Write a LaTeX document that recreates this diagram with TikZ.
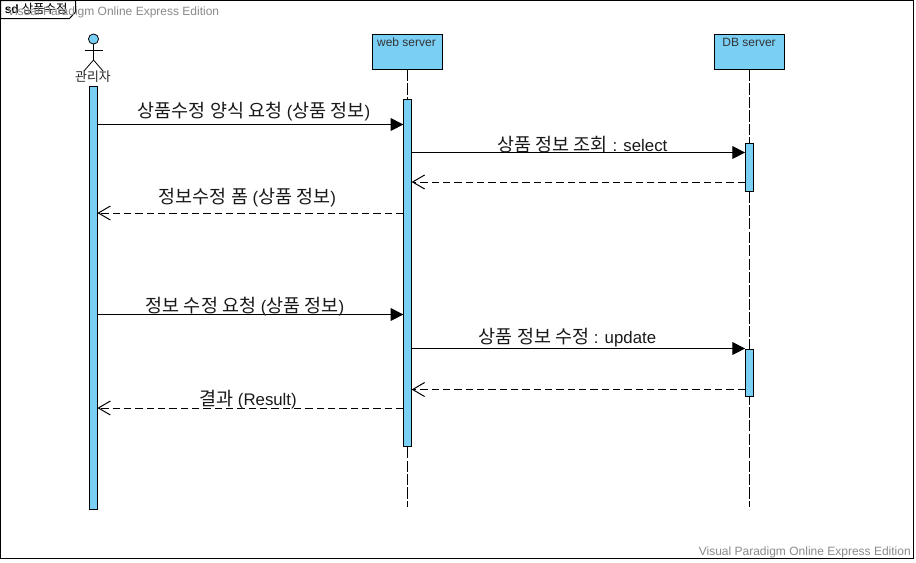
\documentclass[tikz,border=0pt]{standalone}
\usepackage{fontspec}
\setmainfont{Liberation Sans}
\newfontfamily\kr[Scale=1.1]{Noto Sans CJK KR}
\usetikzlibrary{arrows.meta,calc}
\definecolor{vpblue}{HTML}{7ACFF5}
\definecolor{vpgrey}{HTML}{8A8A8A}
\tikzset{
 bar/.style={draw=black,fill=vpblue,line width=0.75pt,minimum width=6.2pt,inner sep=0pt,outer sep=0pt,anchor=north},
 lifebox/.style={draw=black,fill=vpblue,line width=0.75pt,minimum width=52.5pt,minimum height=26.6pt,inner sep=0pt,outer sep=0pt,anchor=north west},
 boxtext/.style={font=\fontsize{9pt}{10pt}\selectfont,text=black!80,inner sep=0pt},
 lifeline/.style={line width=0.75pt,dash pattern=on 8.5pt off 1.6pt},
 call/.style={line width=0.75pt,-{Triangle[length=9.5pt,width=9.5pt]}},
 reply/.style={line width=0.75pt,dash pattern=on 5.5pt off 3pt,-{Straight Barb[length=9pt,width=10.5pt]}},
 msgtext/.style={font=\fontsize{12.6pt}{14pt}\selectfont,text=black!90,inner sep=0pt},
 wmark/.style={font=\fontsize{9pt}{11pt}\selectfont,text=vpgrey,inner sep=0pt},
 stick/.style={line width=0.6pt,draw=black}
}
\begin{document}
\begin{tikzpicture}[x=0.75pt,y=-0.75pt]
\useasboundingbox (0,0) rectangle (916,562);
\fill[white] (0,0) rectangle (916,562);
% frame
\node[draw=black,line width=0.75pt,minimum width=684.5pt,minimum height=418.6pt,inner sep=0pt,outer sep=0pt,anchor=north west] (frame) at (0.5,0.5) {};
\draw[line width=0.75pt,fill=white] (frame.north west) -- (75.5,0.5) -- (75.5,12) -- (69.5,18.5) -- (0.5,18.5) -- cycle;
\node[anchor=base west,inner sep=0pt,font=\fontsize{9pt}{10pt}\selectfont\bfseries] (sdtag) at (4.5,13) {sd};
\node[anchor=base west,inner sep=0pt,font=\fontsize{8.5pt}{10pt}\selectfont\kr] (sdname) at (21.5,13) {상품수정};
\node[wmark,anchor=base west] (wm1) at (7,15) {Visual Paradigm Online Express Edition};
\node[wmark,anchor=base east] (wm2) at (911,555) {Visual Paradigm Online Express Edition};
% lifelines heads
\node[lifebox] (web) at (372.5,34.5) {};
\node[boxtext] (webt) at (406.5,42) {web server};
\node[lifebox] (db) at (714.5,34.5) {};
\node[boxtext] (dbt) at (749,42) {DB server};
% lifeline ends
\coordinate (webend) at (407.5,507);
\coordinate (dbend) at (749.5,507);
\draw[lifeline] (web.south) -- (web.south |- webend);
\draw[lifeline] (db.south) -- (db.south |- dbend);
% actor
\node[draw=black,fill=vpblue,circle,line width=0.6pt,minimum size=7.6pt,inner sep=0pt,outer sep=0pt] (head) at (93.5,39) {};
\coordinate (hip) at (93.5,60);
\coordinate (shoulderL) at (84.5,50.5);
\coordinate (shoulderR) at (103,50.5);
\coordinate (footL) at (84,71);
\coordinate (footR) at (103,71);
\draw[stick] (head.south) -- (hip);
\draw[stick] (shoulderL) -- (shoulderR);
\draw[stick] (footL) -- (hip) -- (footR);
\node[font=\fontsize{8.8pt}{10pt}\selectfont\kr,text=black!85,inner sep=0pt] (actor) at (93,77) {관리자};
% activation bars
\node[bar,minimum height=317.2pt] (barA) at (93.25,86.5) {};
\node[bar,minimum height=260.2pt] (barW) at (407.5,99.5) {};
\node[bar,minimum height=36pt] (barD1) at (749.25,143.5) {};
\node[bar,minimum height=35.3pt] (barD2) at (749.25,349) {};
% message rows
\coordinate (m1) at (0,124.5);
\coordinate (m2) at (0,152.5);
\coordinate (m3) at (0,182);
\coordinate (m4) at (0,213);
\coordinate (m5) at (0,314.5);
\coordinate (m6) at (0,348.5);
\coordinate (m7) at (0,389.5);
\coordinate (m8) at (0,408);
\draw[call] (barA.east |- m1) -- (barW.west |- m1);
\draw[call] (barW.east |- m2) -- (barD1.west |- m2);
\draw[reply] (barD1.west |- m3) -- (barW.east |- m3);
\draw[reply] (barW.west |- m4) -- (barA.east |- m4);
\draw[call] (barA.east |- m5) -- (barW.west |- m5);
\draw[call] (barW.east |- m6) -- (barD2.west |- m6);
\draw[reply] (barD2.west |- m7) -- (barW.east |- m7);
\draw[reply] (barW.west |- m8) -- (barA.east |- m8);
% labels
\node[msgtext] (l1) at (254,111.5) {{\kr 상품수정 양식 요청} ({\kr 상품 정보})};
\node[msgtext] (l2) at (582.5,145) {{\kr 상품 정보 조회} : select};
\node[msgtext] (l4) at (247.5,197.5) {{\kr 정보수정 폼} ({\kr 상품 정보})};
\node[msgtext] (l5) at (245,306.5) {{\kr 정보 수정 요청} ({\kr 상품 정보})};
\node[msgtext] (l6) at (567.5,337.5) {{\kr 상품 정보 수정} : update};
\node[msgtext] (l8) at (248,400) {{\kr 결과} (Result)};
\end{tikzpicture}
\end{document}
